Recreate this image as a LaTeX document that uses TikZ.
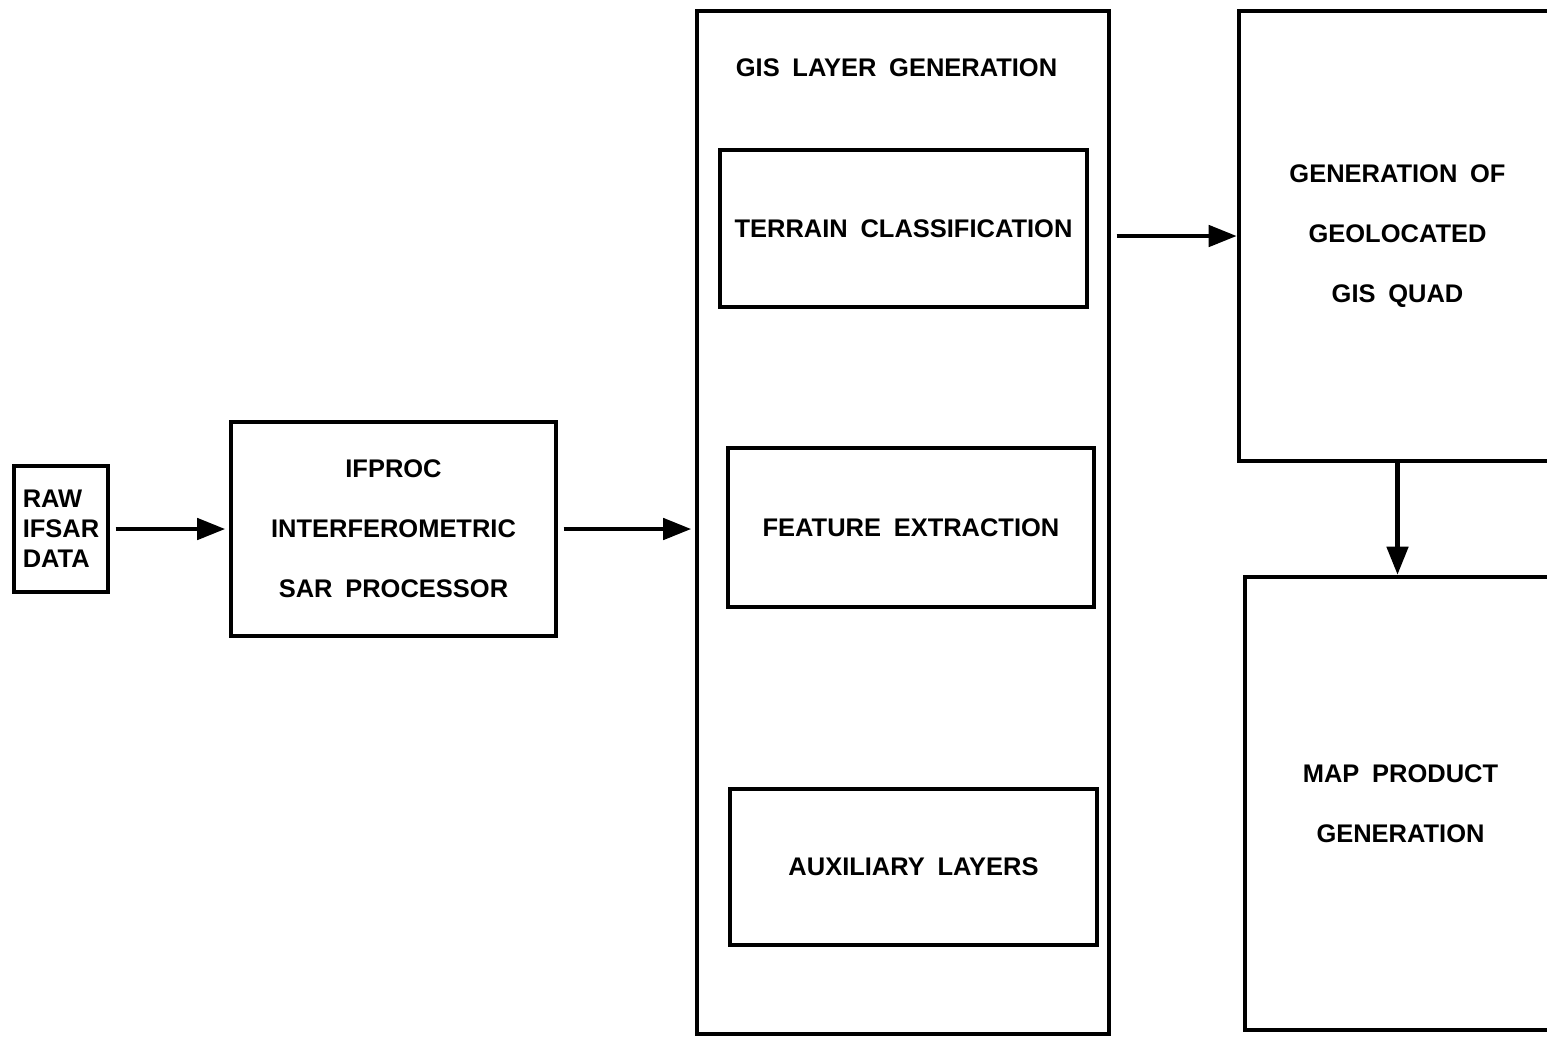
\documentclass[tikz,border=0pt]{standalone}
\usepackage{fontspec}
\setmainfont{Liberation Sans}[WordSpace=1.8]
\usetikzlibrary{arrows.meta,positioning}

\begin{document}
\begin{tikzpicture}[
    x=0.02cm, y=-0.02cm,
    font=\bfseries\fontsize{14.5}{17}\selectfont,
    box/.style={draw, line width=2.6pt, align=center, inner sep=0pt},
    wide/.style={font=\bfseries\fontsize{14.5}{34.2}\selectfont},
    edge/.style={-{Triangle[length=16pt, width=12pt]}, line width=2.6pt, shorten <=3pt}
]
\useasboundingbox (0,0) rectangle (1547,1036);
\node[box, align=left, minimum width=1.88cm, minimum height=2.52cm] (raw) at (61,529) {RAW\\IFSAR\\DATA};
\node[box, wide, minimum width=6.5cm, minimum height=4.28cm] (proc) at (393.5,529) {IFPROC\\INTERFEROMETRIC\\SAR PROCESSOR};
\node[box, minimum width=8.24cm, minimum height=20.46cm] (gis) at (903,522.5) {};
\node (gistitle) at (896.5,68) {GIS LAYER GENERATION};
\node[box, minimum width=7.34cm, minimum height=3.14cm] (terrain) at (903.5,228.5) {TERRAIN CLASSIFICATION};
\node[box, minimum width=7.32cm, minimum height=3.18cm] (feature) at (911,527.5) {FEATURE EXTRACTION};
\node[box, minimum width=7.34cm, minimum height=3.12cm] (aux) at (913.5,867) {AUXILIARY LAYERS};
\node[box, wide, minimum width=6.34cm, minimum height=9cm] (geo) at (1397.5,236) {GENERATION OF\\GEOLOCATED\\GIS QUAD};
\node[box, wide, minimum width=6.22cm, minimum height=9.06cm] (map) at (1400.5,803.5) {MAP PRODUCT\\GENERATION};
\draw[edge, shorten >=2pt] (raw) -- (proc);
\draw[edge, shorten >=2pt] (proc) -- (proc.east -| gis.west);
\draw[edge] (gis.east |- geo.west) -- (geo.west);
\draw[edge, shorten <=0pt] (geo.south) -- (geo.south |- map.north);
\end{tikzpicture}
\end{document}
